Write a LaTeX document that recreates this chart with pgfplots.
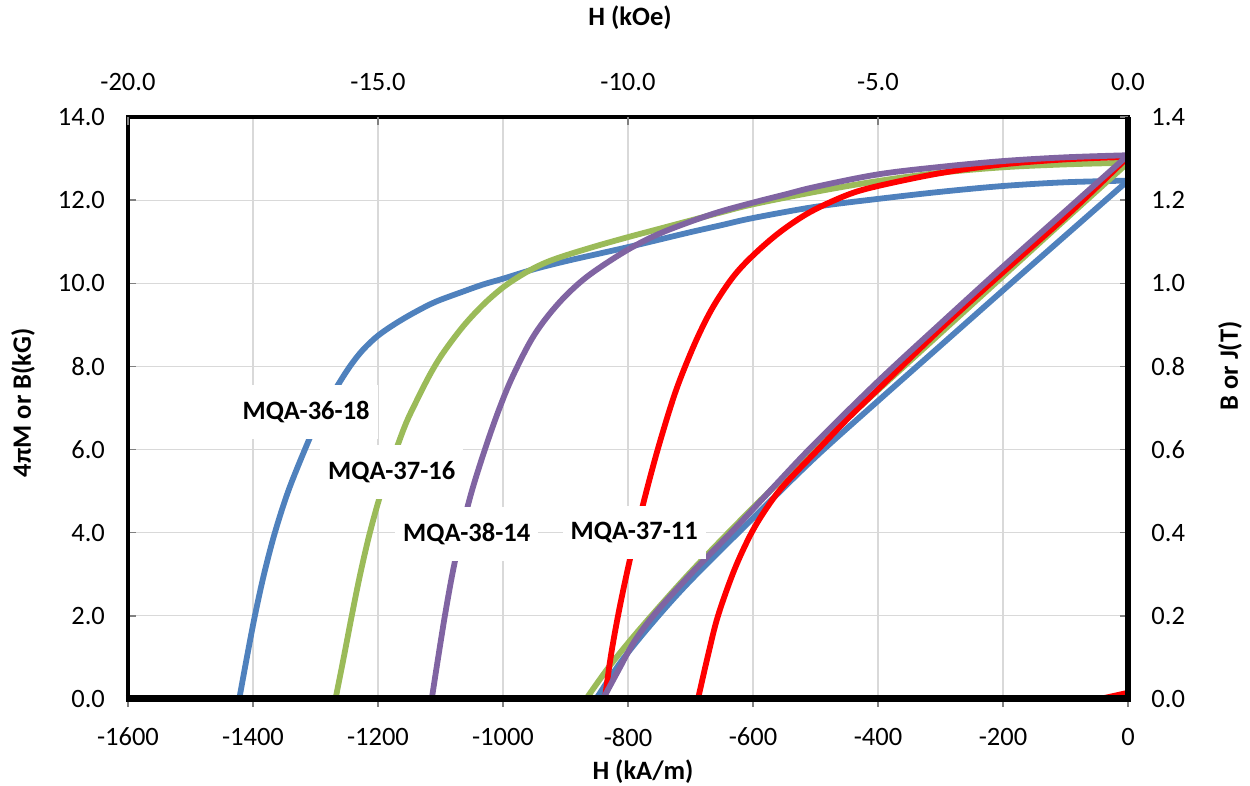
\documentclass[border=0pt]{standalone}
\usepackage{fontspec}
\setmainfont{Carlito}
\usepackage{pgfplots}
\pgfplotsset{compat=1.18}
\usetikzlibrary{calc}

\definecolor{mqblue}{HTML}{4F81BD}
\definecolor{mqgreen}{HTML}{9BBB59}
\definecolor{mqred}{HTML}{FF0000}
\definecolor{mqpurple}{HTML}{8064A2}
\definecolor{gridgray}{HTML}{D9D9D9}
\definecolor{tickgray}{HTML}{808080}

\newcommand{\chartfont}{\fontsize{13.25}{15.5}\selectfont}

\pgfplotsset{
  curve/.style={line width=2.9pt, smooth, tension=0.55, line join=round, line cap=round},
}
\tikzset{
  tag/.style={fill=white, inner xsep=4pt, inner ysep=8pt, font=\chartfont\bfseries},
}

\begin{document}
\begin{tikzpicture}
\begin{axis}[
  name=main,
  scale only axis, width=500pt, height=291pt,
  xmin=-1600, xmax=0, ymin=0, ymax=14,
  xtick={-1600,-1400,...,0}, ytick={0,2,...,14},
  xtick pos=left, ytick pos=left,
  tick align=inside, major tick length=4pt,
  tick style={tickgray, line width=0.75pt},
  x tick style={yshift=-4pt},
  grid=major, major grid style={gridgray, line width=0.6pt},
  axis line style={black, line width=2pt},
  /pgf/number format/assume math mode=true,
  xticklabel style={font=\chartfont, yshift=-11pt, /pgf/number format/.cd, fixed, precision=0, 1000 sep={}},
  yticklabel style={font=\chartfont, xshift=-8pt, /pgf/number format/.cd, fixed, fixed zerofill, precision=1},
]
% MQA-36-18
\addplot[curve, mqblue] coordinates {
  (-1422,0) (-1409.8,1) (-1397,2) (-1382.4,3) (-1365,4) (-1343.6,5) (-1317,6)
  (-1294,6.78) (-1267,7.48) (-1245,8.0) (-1224,8.4) (-1200,8.74) (-1171,9.04)
  (-1139,9.32) (-1107,9.56) (-1064,9.8) (-1032,9.97) (-1000,10.11) (-950,10.34)
  (-900,10.53) (-850,10.70) (-800,10.87) (-750,11.05) (-700,11.23) (-650,11.40)
  (-600,11.57) (-500,11.84) (-400,12.03) (-300,12.2) (-200,12.34) (-100,12.43) (0,12.47)
};
\addplot[curve, mqblue] coordinates {
  (-851,0) (-810,0.92) (-760,1.85) (-700,2.85) (-600,4.35) (-500,5.82) (-400,7.17)
  (-300,8.5) (-200,9.83) (-100,11.15) (0,12.47)
};
% MQA-37-16
\addplot[curve, mqgreen] coordinates {
  (-1268,0) (-1254.8,1) (-1242,2) (-1228.5,3) (-1213,4) (-1194.3,5) (-1171,6)
  (-1155,6.64) (-1139,7.15) (-1117,7.8) (-1096,8.32) (-1064,8.96) (-1032,9.48)
  (-1000,9.9) (-968,10.22) (-936,10.47) (-904,10.65) (-852,10.89) (-800,11.11)
  (-750,11.31) (-700,11.51) (-650,11.71) (-600,11.9) (-500,12.2) (-400,12.46)
  (-300,12.66) (-200,12.79) (-100,12.86) (0,12.9)
};
\addplot[curve, mqgreen] coordinates {
  (-867,0) (-830,0.78) (-780,1.7) (-700,3.05) (-600,4.6) (-500,6.05) (-400,7.43)
  (-300,8.8) (-200,10.17) (-100,11.54) (0,12.9)
};
% MQA-37-11
\addplot[curve, mqred] coordinates {
  (-837,0) (-827.8,1) (-816,2) (-802.2,3) (-787,4) (-770.5,5) (-752.5,6) (-732.5,7)
  (-716.4,7.7) (-690.5,8.64) (-664,9.43) (-632,10.15) (-600,10.67) (-557,11.23)
  (-509,11.71) (-450,12.12) (-400,12.34) (-300,12.65) (-200,12.86) (-100,12.98) (0,13.04)
};
\addplot[curve, mqred] coordinates {
  (-688,0) (-672,1.05) (-656,2) (-630,3.1) (-603,3.98) (-577,4.62) (-550,5.15)
  (-496,6) (-450,6.72) (-400,7.45) (-300,8.9) (-216,10.05) (-100,11.6) (0,13.04)
};
\addplot[mqred, line width=2.9pt] coordinates {(-45,0) (0,0.15)};
% MQA-38-14
\addplot[curve, mqpurple] coordinates {
  (-1114,0) (-1103.7,1) (-1093,2) (-1081.1,3) (-1067,4) (-1049.9,5) (-1029,6)
  (-1008,6.9) (-987,7.68) (-957,8.58) (-931,9.16) (-899,9.71) (-861,10.21)
  (-800,10.81) (-744,11.23) (-664,11.67) (-600,11.94) (-550,12.13) (-500,12.32)
  (-400,12.62) (-300,12.8) (-200,12.94) (-100,13.03) (0,13.08)
};
\addplot[curve, mqpurple] coordinates {
  (-840,0) (-815,0.7) (-790,1.38) (-757,2.05) (-700,3.0) (-629,4.1) (-567,5.1)
  (-504,6.1) (-400,7.64) (-300,9.03) (-200,10.4) (-100,11.74) (0,13.08)
};

\node[tag] at (axis cs:-1315,6.9) {MQA-36-18};
\node[tag] at (axis cs:-1178,5.46) {MQA-37-16};
\node[tag] at (axis cs:-1058,3.97) {MQA-38-14};
\node[tag] at (axis cs:-790,4.0) {MQA-37-11};
\end{axis}

\begin{axis}[
  scale only axis, width=500pt, height=291pt,
  xmin=-20, xmax=0, ymin=0, ymax=1.4,
  axis x line*=top, axis y line*=right,
  axis line style={draw=none},
  xtick={-20,-15,-10,-5,0}, ytick={0,0.2,0.4,0.6,0.8,1.0,1.2,1.4},
  tick align=inside, major tick length=4pt,
  tick style={tickgray, line width=0.75pt},
  /pgf/number format/assume math mode=true,
  xticklabel style={font=\chartfont, yshift=9.4pt, /pgf/number format/.cd, fixed, fixed zerofill, precision=1},
  yticklabel style={font=\chartfont, xshift=8.2pt, /pgf/number format/.cd, fixed, fixed zerofill, precision=1},
]
\end{axis}

\draw[line width=3pt] (main.south east) -- (main.north east);
\draw[line width=3.5pt] ([xshift=-1pt]main.south west) -- ([xshift=1.5pt]main.south east);

\node[font=\chartfont\bfseries, rotate=90] at ([xshift=-52.5pt, yshift=2.6pt]main.west) {4πM or B(kG)};
\node[font=\chartfont\bfseries, rotate=90] at ([xshift=51pt, yshift=21pt]main.east) {B or J(T)};
\node[font=\chartfont\bfseries] at ([xshift=7.5pt, yshift=-36.5pt]main.south) {H (kA/m)};
\node[font=\chartfont\bfseries] at ([xshift=1pt, yshift=49.5pt]main.north) {H (kOe)};

\pgfresetboundingbox
\path[use as bounding box] ([shift={(-64pt,-43.5pt)}]main.south west) rectangle ([shift={(61pt,58.5pt)}]main.north east);
\end{tikzpicture}
\end{document}
